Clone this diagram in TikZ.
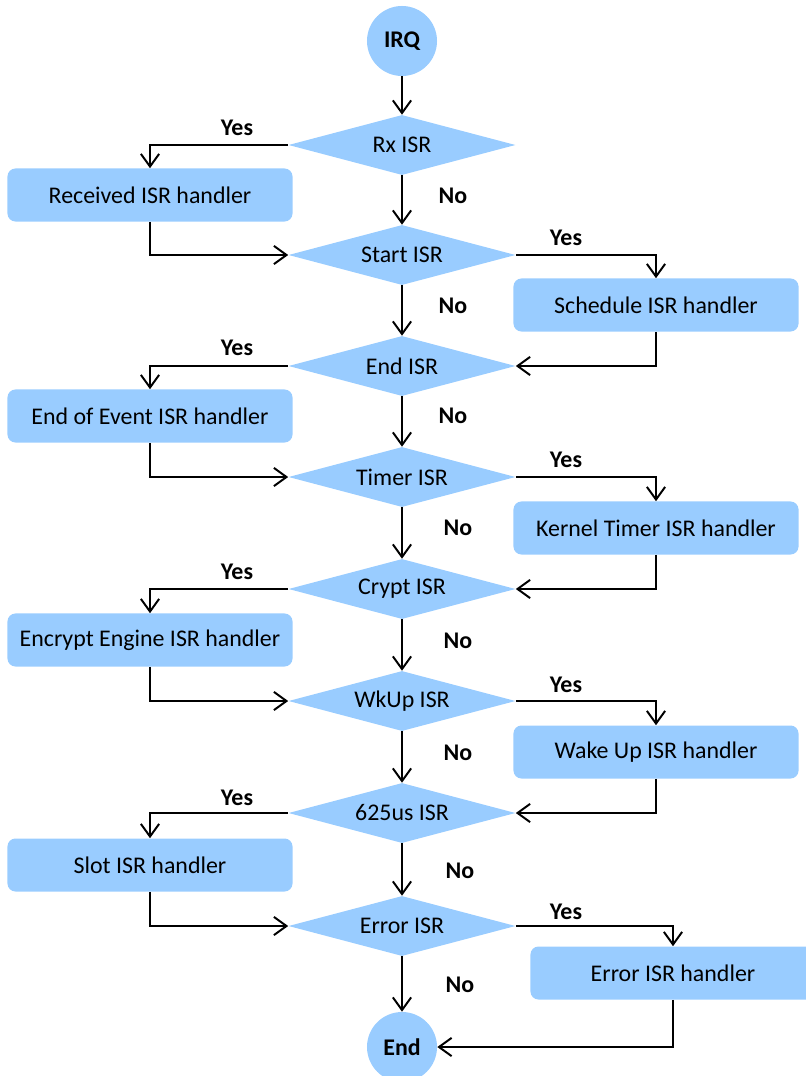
\documentclass[tikz,border=0pt]{standalone}
\usepackage{fontspec}
\setmainfont{Carlito}
\usetikzlibrary{shapes.geometric,arrows.meta}
\definecolor{isrFill}{HTML}{99CCFF}
\begin{document}
\begin{tikzpicture}[x=0.025cm,y=-0.025cm,
  >={Straight Barb[length=9pt,width=13pt]},
  every node/.style={font=\fontsize{17}{20}\selectfont},
  term/.style={circle,fill=isrFill,minimum size=1.75cm,inner sep=0pt,font=\fontsize{17}{20}\selectfont\bfseries},
  test/.style={diamond,aspect=3.8,fill=isrFill,minimum width=5.675cm,minimum height=1.5cm,inner sep=0pt},
  handler/.style={rectangle,rounded corners=0.2cm,fill=isrFill,minimum width=7.125cm,minimum height=1.325cm},
  lbl/.style={font=\fontsize{17}{20}\selectfont\bfseries},
  flow/.style={->,line width=1.4pt}]
\useasboundingbox (0,0) rectangle (806,1076);
\node[term] (irq) at (402,41) {IRQ};
\node[test] (rx) at (402,145) {Rx ISR};
\node[test] (start) at (402,255) {Start ISR};
\node[test] (endisr) at (402,366) {End ISR};
\node[test] (timer) at (402,477) {Timer ISR};
\node[test] (crypt) at (402,589) {Crypt ISR};
\node[test] (wkup) at (402,701) {WkUp ISR};
\node[test] (slot) at (402,813) {625us ISR};
\node[test] (err) at (402,926) {Error ISR};
\node[term] (stop) at (402,1047) {End};
\node[handler] (recv) at (150,195) {Received ISR handler};
\node[handler] (eoe) at (150,416) {End of Event ISR handler};
\node[handler] (enc) at (150,640) {Encrypt Engine ISR handler};
\node[handler] (sloth) at (150,865) {Slot ISR handler};
\node[handler] (sched) at (656,305) {Schedule ISR handler};
\node[handler] (ktimer) at (656,528) {Kernel Timer ISR handler};
\node[handler] (wake) at (656,752) {Wake Up ISR handler};
\node[handler] (errh) at (673,973) {Error ISR handler};
\draw[flow] (irq) -- (rx);
\draw[flow] (rx) -- (start);
\draw[flow] (start) -- (endisr);
\draw[flow] (endisr) -- (timer);
\draw[flow] (timer) -- (crypt);
\draw[flow] (crypt) -- (wkup);
\draw[flow] (wkup) -- (slot);
\draw[flow] (slot) -- (err);
\draw[flow] (err) -- (stop);
\draw[flow] (rx.west) -| (recv.north);
\draw[flow] (recv.south) |- (start.west);
\draw[flow] (start.east) -| (sched.north);
\draw[flow] (sched.south) |- (endisr.east);
\draw[flow] (endisr.west) -| (eoe.north);
\draw[flow] (eoe.south) |- (timer.west);
\draw[flow] (timer.east) -| (ktimer.north);
\draw[flow] (ktimer.south) |- (crypt.east);
\draw[flow] (crypt.west) -| (enc.north);
\draw[flow] (enc.south) |- (wkup.west);
\draw[flow] (wkup.east) -| (wake.north);
\draw[flow] (wake.south) |- (slot.east);
\draw[flow] (slot.west) -| (sloth.north);
\draw[flow] (sloth.south) |- (err.west);
\draw[flow] (err.east) -| (errh.north);
\draw[flow] (errh.south) |- (stop.east);
\node[lbl] (yes1) at (237,128) {Yes};
\node[lbl] (yes2) at (566,238) {Yes};
\node[lbl] (yes3) at (237,348) {Yes};
\node[lbl] (yes4) at (566,460) {Yes};
\node[lbl] (yes5) at (237,572) {Yes};
\node[lbl] (yes6) at (566,685) {Yes};
\node[lbl] (yes7) at (237,798) {Yes};
\node[lbl] (yes8) at (566,912) {Yes};
\node[lbl] (no1) at (453,196) {No};
\node[lbl] (no2) at (453,306) {No};
\node[lbl] (no3) at (453,416) {No};
\node[lbl] (no4) at (458,528) {No};
\node[lbl] (no5) at (458,641) {No};
\node[lbl] (no6) at (458,753) {No};
\node[lbl] (no7) at (460,871) {No};
\node[lbl] (no8) at (460,985) {No};
\end{tikzpicture}
\end{document}
